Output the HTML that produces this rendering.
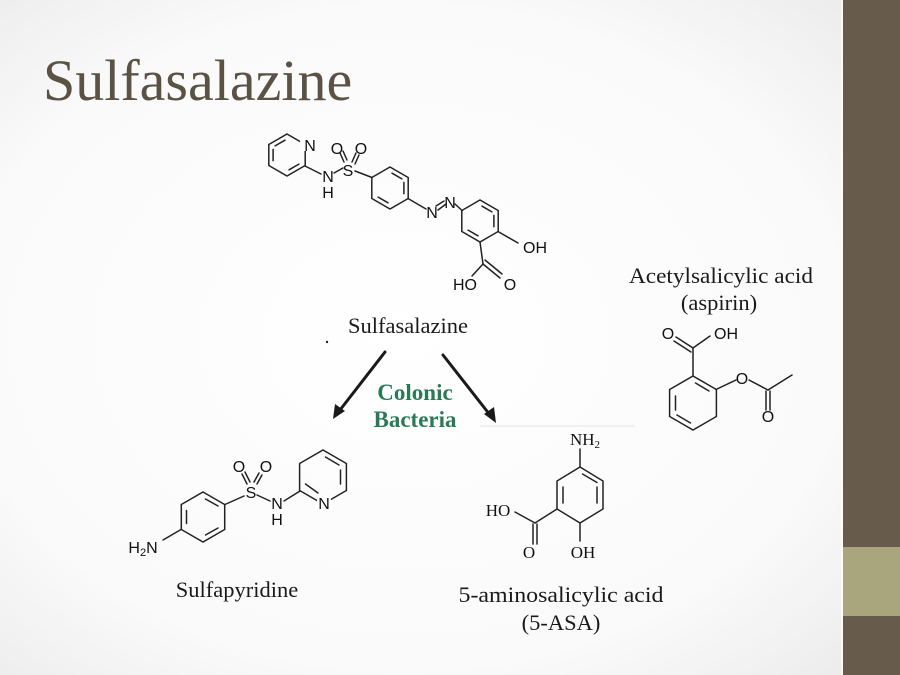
<!DOCTYPE html>
<html><head><meta charset="utf-8"><style>
html,body{margin:0;padding:0;width:900px;height:675px;overflow:hidden;background:#fff}
</style></head><body>
<svg width="900" height="675" viewBox="0 0 900 675" xmlns="http://www.w3.org/2000/svg">
<defs>
<radialGradient id="bg" cx="0.45" cy="0.5" r="0.7">
<stop offset="0" stop-color="#ffffff"/><stop offset="0.7" stop-color="#fafafa"/><stop offset="1" stop-color="#ececec"/>
</radialGradient>
</defs>
<rect width="900" height="675" fill="url(#bg)"/>
<rect x="843" y="0" width="57" height="675" fill="#675c4b"/>
<rect x="843" y="547" width="57" height="69" fill="#a9a57d"/>
<line x1="842" y1="0" x2="842" y2="675" stroke="#fff" stroke-width="1.5"/>

<text x="43" y="100" font-family="Liberation Serif, serif" font-size="58" fill="#5a5244">Sulfasalazine</text>

<g stroke="#222" stroke-width="1.5" fill="none" stroke-linecap="round">
<!-- Sulfasalazine -->
<g transform="translate(287,155)">
<polygon points="0,-21 18.2,-10.5 18.2,10.5 0,21 -18.2,10.5 -18.2,-10.5"/>
<line x1="-13.9" y1="5.6" x2="-13.9" y2="-5.6"/><line x1="2" y1="14.8" x2="11.9" y2="9.1"/><line x1="-11.9" y1="-9.1" x2="-2" y2="-14.8"/>
</g>
<rect x="300" y="137" width="13" height="14" fill="#fff" stroke="none"/>
<line x1="305" y1="166" x2="321" y2="174"/>
<line x1="334" y1="173" x2="343" y2="168"/>
<line x1="344" y1="162" x2="340" y2="153"/><line x1="347" y1="160" x2="343" y2="151"/>
<line x1="352" y1="162" x2="356" y2="153"/><line x1="355" y1="164" x2="359" y2="155"/>
<line x1="355" y1="171" x2="372" y2="177.5"/>
<g transform="translate(390,188)">
<polygon points="0,-21 18.2,-10.5 18.2,10.5 0,21 -18.2,10.5 -18.2,-10.5"/>
<line x1="2" y1="-14.8" x2="11.9" y2="-9.1"/><line x1="13.9" y1="5.6" x2="13.9" y2="-5.6"/><line x1="-2" y1="14.8" x2="-11.9" y2="9.1"/>
</g>
<line x1="408" y1="198.5" x2="426" y2="209"/>
<line x1="438" y1="210" x2="446" y2="204"/><line x1="436" y1="206" x2="444" y2="201"/>
<line x1="455" y1="204" x2="462" y2="210.5"/>
<g transform="translate(480,221)">
<polygon points="0,-21 18.2,-10.5 18.2,10.5 0,21 -18.2,10.5 -18.2,-10.5"/>
<line x1="2" y1="-14.8" x2="11.9" y2="-9.1"/><line x1="13.9" y1="5.6" x2="13.9" y2="-5.6"/><line x1="-2" y1="14.8" x2="-11.9" y2="9.1"/>
</g>
<line x1="498" y1="231.5" x2="518" y2="243"/>
<line x1="480" y1="242" x2="483" y2="264"/>
<line x1="483" y1="264" x2="472" y2="276"/>
<line x1="483" y1="264" x2="500" y2="278"/><line x1="485" y1="260" x2="502" y2="274"/>

<!-- Sulfapyridine -->
<g transform="translate(203,517)">
<polygon points="0,-25 21.7,-12.5 21.7,12.5 0,25 -21.7,12.5 -21.7,-12.5"/>
<line x1="2.5" y1="-18" x2="15" y2="-11"/><line x1="-16.5" y1="6.5" x2="-16.5" y2="-6.5"/><line x1="2.5" y1="18" x2="15" y2="11"/>
</g>
<line x1="181" y1="529.5" x2="163" y2="540"/>
<line x1="225" y1="504.5" x2="244" y2="496"/>
<line x1="247" y1="484" x2="242" y2="474"/><line x1="250" y1="482" x2="245" y2="472"/>
<line x1="254" y1="482" x2="259" y2="473"/><line x1="257" y1="484" x2="262" y2="475"/>
<line x1="257" y1="495" x2="270" y2="501"/>
<line x1="284" y1="501" x2="300" y2="491"/>
<g transform="translate(323,477)">
<polygon points="0,-27 23.4,-13.5 23.4,13.5 0,27 -23.4,13.5 -23.4,-13.5"/>
<line x1="2.5" y1="-20" x2="16" y2="-12"/><line x1="17.5" y1="7" x2="17.5" y2="-7"/><line x1="-17.5" y1="7" x2="-5" y2="16"/>
</g>
<rect x="317" y="496" width="14" height="14" fill="#fff" stroke="none"/>

<!-- 5-ASA -->
<g transform="translate(580,495)">
<polygon points="0,-28 23,-14 23,14 0,28 -23,14 -23,-14"/>
<line x1="2.5" y1="-21" x2="17" y2="-12.5"/><line x1="17" y1="8" x2="17" y2="-8"/><line x1="-17" y1="8" x2="-17" y2="-8"/>
</g>
<line x1="580" y1="467" x2="580" y2="449"/>
<line x1="557" y1="509" x2="535" y2="523"/>
<line x1="535" y1="523" x2="515" y2="512"/>
<line x1="533" y1="524" x2="533" y2="544"/><line x1="537" y1="524" x2="537" y2="544"/>
<line x1="580" y1="523" x2="580" y2="541"/>

<!-- Aspirin -->
<g transform="translate(693,403)">
<polygon points="0,-27 23.4,-13.5 23.4,13.5 0,27 -23.4,13.5 -23.4,-13.5"/>
<line x1="-17.5" y1="7" x2="-17.5" y2="-7"/><line x1="2.5" y1="-20" x2="16" y2="-12"/><line x1="-2.5" y1="20" x2="-16" y2="12"/>
</g>
<line x1="693" y1="376" x2="693" y2="348"/>
<line x1="693" y1="348" x2="676" y2="337"/><line x1="691" y1="352" x2="674" y2="341"/>
<line x1="693" y1="348" x2="710" y2="336"/>
<line x1="716" y1="389.5" x2="736" y2="380"/>
<line x1="749" y1="380" x2="768" y2="390"/>
<line x1="768" y1="390" x2="792" y2="375"/>
<line x1="766" y1="391" x2="766" y2="410"/><line x1="770" y1="391" x2="770" y2="410"/>
</g>

<g font-family="Liberation Sans, sans-serif" font-size="16" fill="#111" text-anchor="middle">
<text x="310" y="151">N</text>
<text x="328" y="182">N</text><text x="328" y="198">H</text>
<text x="348" y="176">S</text>
<text x="337" y="154">O</text><text x="361" y="154">O</text>
<text x="432" y="218">N</text><text x="450" y="208">N</text>
<text x="535" y="253">OH</text>
<text x="465" y="290">HO</text><text x="510" y="290">O</text>
<text x="143" y="553">H<tspan font-size="11" dy="3">2</tspan><tspan dy="-3">N</tspan></text>
<text x="251" y="498">S</text>
<text x="239" y="472">O</text><text x="266" y="472">O</text>
<text x="277" y="509">N</text><text x="277" y="525">H</text>
<text x="324" y="509">N</text>
<text x="668" y="339">O</text><text x="726" y="339">OH</text>
<text x="742" y="384">O</text>
<text x="768" y="422">O</text>
</g>
<g font-family="Liberation Serif, serif" font-size="17" fill="#111" text-anchor="middle">
<text x="585" y="445">NH<tspan font-size="11" dy="3">2</tspan></text>
<text x="498" y="516">HO</text>
<text x="529" y="558">O</text>
<text x="583" y="558">OH</text>
</g>

<g stroke="#1a1a1a" stroke-width="3" stroke-linecap="round">
<line x1="385" y1="352" x2="340" y2="410"/>
<line x1="443" y1="355" x2="490" y2="415"/>
</g>
<polygon points="333,419 335,404 345,411" fill="#1a1a1a"/>
<polygon points="496,423 484,414 494,407" fill="#1a1a1a"/>
<circle cx="327" cy="342" r="1.2" fill="#222"/>
<line x1="480" y1="426" x2="635" y2="426" stroke="#e4e4e4" stroke-width="1"/>

<g font-family="Liberation Serif, serif" fill="#1a1a1a" font-size="22.5" text-anchor="middle">
<text x="408" y="333">Sulfasalazine</text>
<text x="721" y="283" textLength="184" lengthAdjust="spacingAndGlyphs">Acetylsalicylic acid</text>
<text x="719" y="310">(aspirin)</text>
<text x="237" y="597">Sulfapyridine</text>
<text x="561" y="602" textLength="205" lengthAdjust="spacingAndGlyphs">5-aminosalicylic acid</text>
<text x="561" y="630">(5-ASA)</text>
</g>
<g font-family="Liberation Serif, serif" fill="#2b7a57" font-size="23" font-weight="bold" text-anchor="middle">
<text x="415" y="400">Colonic</text>
<text x="415" y="427">Bacteria</text>
</g>
</svg>
</body></html>
